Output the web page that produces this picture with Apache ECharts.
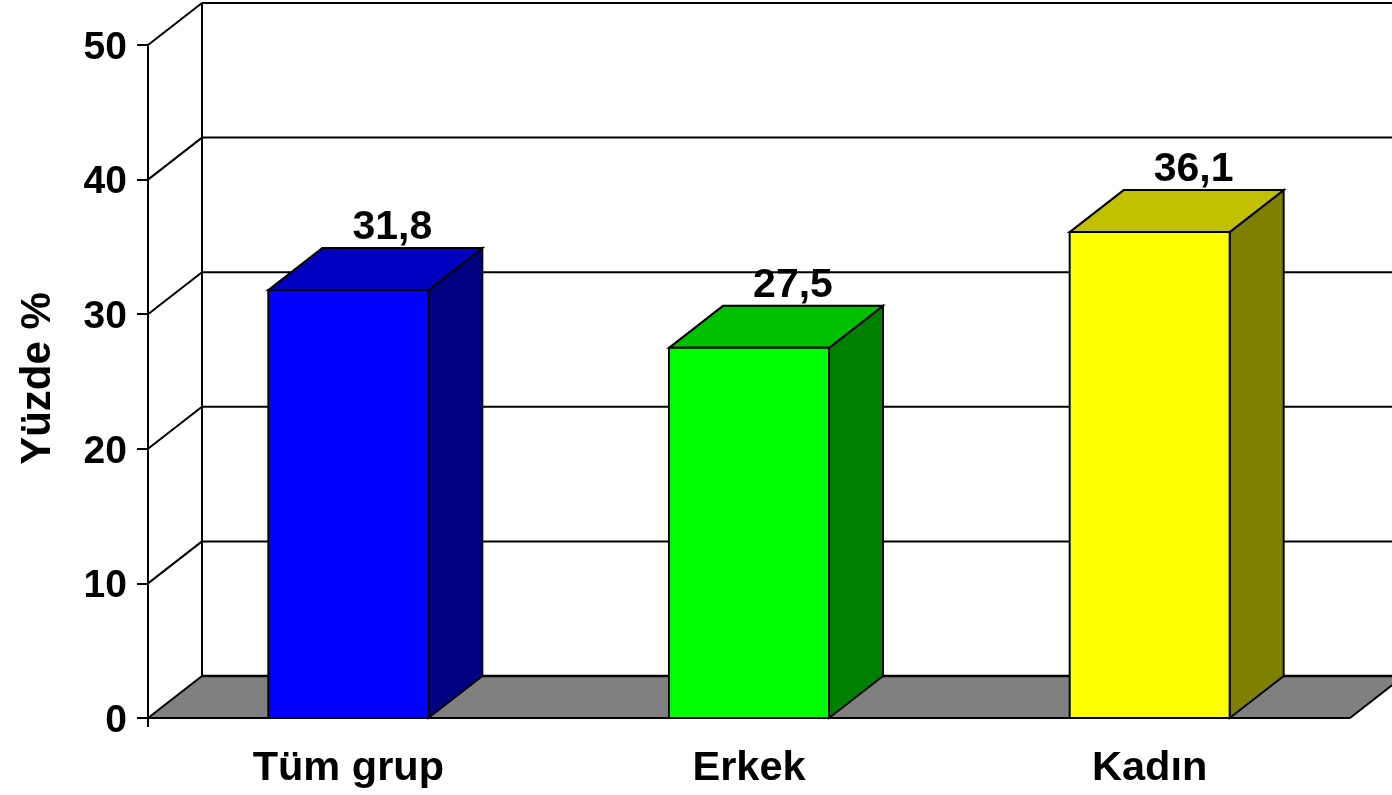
<!DOCTYPE html>
<html><head><meta charset="utf-8">
<style>html,body{margin:0;padding:0;background:#fff}#c{width:1392px;height:795px}</style>
<script src="https://cdn.jsdelivr.net/npm/echarts@6/dist/echarts.min.js"></script>
</head><body><div id="c"></div>
<script>
var categories = ['Tüm grup', 'Erkek', 'Kadın'];
var values = [31.8, 27.5, 36.1];
var valueLabels = ['31,8', '27,5', '36,1'];
var yTicks = [0, 10, 20, 30, 40, 50];
var frontColors = ['#0000ff', '#00ff00', '#ffff00'];
var topColors = ['#0000c0', '#00c000', '#c0c000'];
var sideColors = ['#000080', '#008000', '#808000'];

var DX = 54, DY = -42, BAR_W = 160;
var FONT = '"Liberation Sans", Arial, sans-serif';

function line(x1, y1, x2, y2, w) {
  return { type: 'line', shape: { x1: x1, y1: y1, x2: x2, y2: y2 },
           style: { stroke: '#000', lineWidth: w || 2 }, silent: true };
}
function poly(points, fill) {
  return { type: 'polygon', shape: { points: points },
           style: { fill: fill, stroke: '#000', lineWidth: 2, lineJoin: 'miter' }, silent: true };
}

function renderFrame(params, api) {
  var v = api.value(0);
  var c = params.coordSys;
  var left = c.x, right = c.x + c.width;
  var y = api.coord([0, v])[1];
  var y0 = c.y + c.height;
  var kids = [];
  if (v === 0) {
    kids.push({ type: 'polygon', shape: { points: [[left, y0], [left + DX, y0 + DY], [right + DX, y0 + DY], [right, y0]] },
                style: { fill: '#808080', stroke: null } });
    kids.push(line(left + DX, c.y + DY, left + DX, y0 + DY));
    kids.push(line(left, c.y, left, y0 + 9));
    kids.push(line(right, y0, right + DX, y0 + DY));
    kids.push(line(left, y0, right, y0));
    kids.push(line(left + DX, y + DY, right + DX, y + DY, 2.5));
  } else {
    kids.push(line(left + DX, y + DY, right + DX, y + DY));
  }
  kids.push(line(left, y, left + DX, y + DY));
  return { type: 'group', children: kids };
}

function renderBar(params, api) {
  var i = api.value(0);
  var v = api.value(1);
  var base = api.coord([i, 0]);
  var top = api.coord([i, v]);
  var l = base[0] - BAR_W / 2, r = base[0] + BAR_W / 2;
  var yb = base[1], yt = top[1];
  return { type: 'group', children: [
    poly([[r, yb], [r + DX, yb + DY], [r + DX, yt + DY], [r, yt]], sideColors[i]),
    poly([[l, yt], [l + DX, yt + DY], [r + DX, yt + DY], [r, yt]], topColors[i]),
    poly([[l, yb], [l, yt], [r, yt], [r, yb]], frontColors[i]),
    { type: 'text', silent: true, style: { text: valueLabels[i], x: base[0] + 44, y: yt - 62,
      align: 'center', verticalAlign: 'middle', fill: '#000', font: 'bold 41px ' + FONT } }
  ] };
}

var chart = echarts.init(document.getElementById('c'), null, { renderer: 'canvas', width: 1392, height: 795 });
chart.setOption({
  animation: false,
  backgroundColor: '#fff',
  grid: { left: 148, right: 42, top: 45, bottom: 77, outerBoundsMode: 'none' },
  xAxis: {
    type: 'category', data: categories, boundaryGap: true,
    axisLine: { show: false }, axisTick: { show: false }, splitLine: { show: false },
    axisLabel: { color: '#000', fontFamily: FONT, fontWeight: 'bold', fontSize: 41.5, margin: 30 }
  },
  yAxis: {
    type: 'value', min: 0, max: 50, interval: 10,
    name: 'Yüzde %', nameLocation: 'middle', nameRotate: 90, nameGap: 89,
    nameTextStyle: { color: '#000', fontFamily: FONT, fontWeight: 'bold', fontSize: 42, padding: [0, 0, 0, 6] },
    axisLine: { show: false }, splitLine: { show: false },
    axisTick: { show: true, length: 11, lineStyle: { color: '#000', width: 2 } },
    axisLabel: { color: '#000', fontFamily: FONT, fontWeight: 'bold', fontSize: 39, margin: 21, verticalAlign: 'top', lineHeight: 6 }
  },
  series: [
    { type: 'custom', clip: false, silent: true, z: 1, renderItem: renderFrame,
      encode: { y: 0 }, data: yTicks.map(function (t) { return [t]; }) },
    { type: 'custom', clip: false, silent: true, z: 2, renderItem: renderBar,
      encode: { x: 0, y: 1 }, data: values.map(function (v, i) { return [i, v]; }) }
  ]
});
</script></body></html>
